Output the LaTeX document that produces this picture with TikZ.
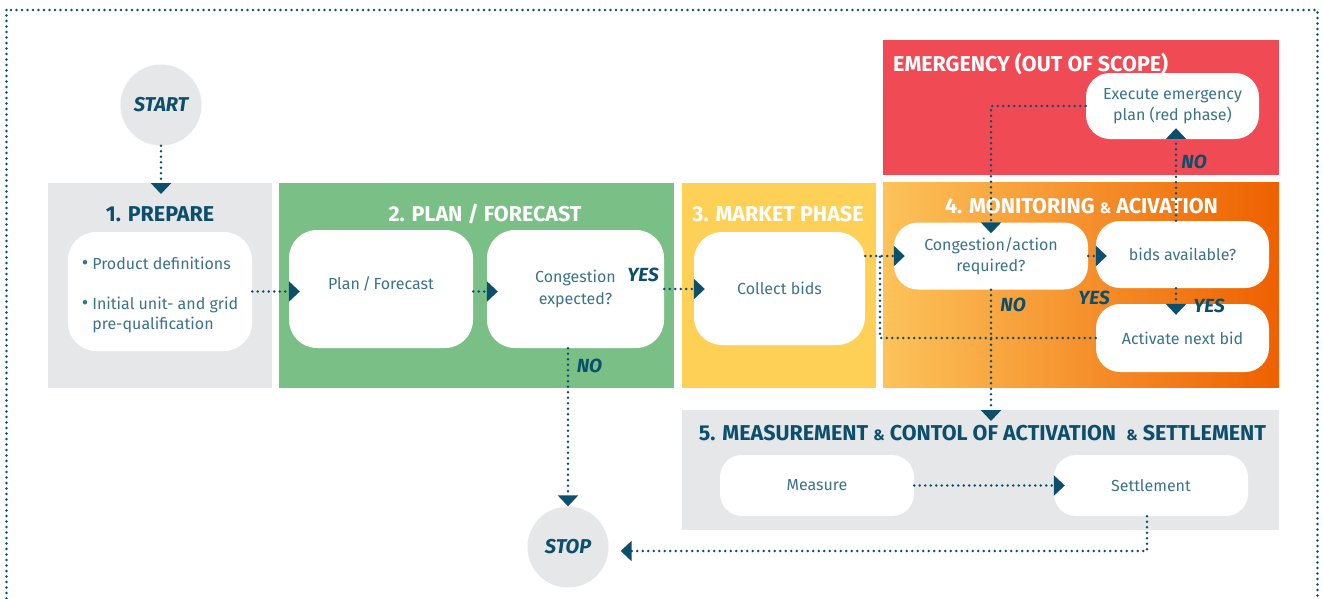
\documentclass[tikz,border=0pt]{standalone}
\usepackage{fontspec}
\setmainfont{Fira Sans}
\usetikzlibrary{arrows.meta,calc}
\definecolor{dteal}{HTML}{0B4F6C}
\definecolor{btxt}{HTML}{3B7389}
\definecolor{gbox}{HTML}{E6E7E8}
\definecolor{gfill}{HTML}{7ABF86}
\definecolor{yfill}{HTML}{FED156}
\definecolor{rfill}{HTML}{F04B55}
\definecolor{oleft}{HTML}{FDC35A}
\definecolor{omid}{HTML}{F7A033}
\definecolor{oright}{HTML}{EE6000}
\newcommand{\amp}{{\fontsize{15}{15}\selectfont\&}}
\newcommand{\bul}{{\fontsize{20}{16}\selectfont\textbullet}}
\tikzset{
  conn/.style={draw=dteal, line width=2.7pt, line cap=round, dash pattern=on 0pt off 5.5pt},
  arr/.style={conn, -{Triangle[width=20pt,length=11pt]}},
  into/.style={shorten >=-11pt},
  stepbox/.style={fill=white, rounded corners=#1, inner sep=0pt, align=center, text=btxt,
    font=\fontsize{16}{21.5}\selectfont},
  stepbox/.default=26pt,
  title/.style={font=\bfseries\fontsize{21.5}{22}\selectfont, inner sep=0pt},
  lab/.style={font=\bfseries\itshape\fontsize{19}{20}\selectfont, text=dteal, inner sep=0pt},
  term/.style={circle, fill=gbox, minimum size=81pt, inner sep=0pt,
    font=\bfseries\itshape\fontsize{20}{20}\selectfont, text=dteal},
  panel/.style={inner sep=0pt, outer sep=0pt}
}
\begin{document}
\begin{tikzpicture}[x=1pt,y=-1pt]
\useasboundingbox (0,0) rectangle (1323,598);
\clip (0,0) rectangle (1323,598);
\fill[white] (0,0) rectangle (1323,598);
% outer frame
\draw[conn] (6.5,10) rectangle (1317.5,640);

% panels
\node[panel, fill=gbox, minimum width=224pt, minimum height=205pt] (box1) at (160,285.5) {};
\node[panel, fill=gfill, minimum width=395pt, minimum height=205pt] (box2) at (476.5,285.5) {};
\node[panel, fill=yfill, minimum width=194pt, minimum height=205pt] (box3) at (779,285.5) {};
\node[panel, left color=oleft, middle color=omid, right color=oright, minimum width=396pt, minimum height=205pt] (box4) at (1081,284.5) {};
\node[panel, fill=rfill, minimum width=396pt, minimum height=135pt] (box0) at (1081,107.5) {};
\node[panel, fill=gbox, minimum width=597pt, minimum height=120pt] (box5) at (980.5,470) {};

% titles
\node[title, text=dteal] at (160,214) {1. PREPARE};
\node[title, text=white] at (485,214) {2. PLAN / FORECAST};
\node[title, text=white] at (778,214) {3. MARKET PHASE};
\node[title, text=white] at (1081.5,206.5) {4. MONITORING \amp{} ACIVATION};
\node[title, text=white, anchor=west] at (893,64) {EMERGENCY (OUT OF SCOPE)};
\node[title, text=dteal] at (982.5,433.5) {5. MEASUREMENT \amp{} CONTOL OF ACTIVATION\ \ \amp{} SETTLEMENT};

% terminals
\node[term] (start) at (161,105) {START};
\node[term] (stop) at (568,547) {STOP};

% steps
\node[stepbox=28pt, minimum width=184pt, minimum height=119pt] (prep) at (160,291.5)
  {\begin{tabular}{@{}l@{\hspace{4pt}}l@{}}
   \rule{0pt}{22pt}\bul & Product definitions\\[19pt]
   \bul & Initial unit- and grid\\[-2pt]
        & pre-qualification
   \end{tabular}};
\node[stepbox=28pt, minimum width=184pt, minimum height=118pt] (plan) at (381,289) {\raisebox{12pt}{Plan\,/\,Forecast}};
\node[stepbox=28pt, minimum width=177pt, minimum height=118pt] (cong) at (575.5,289) {Congestion\\expected?};
\node[stepbox=28pt, minimum width=171pt, minimum height=113pt] (collect) at (779.5,288.5) {Collect bids};
\node[stepbox=24pt, minimum width=194pt, minimum height=67pt] (cact) at (991,256) {Congestion/action\\required?};
\node[stepbox=24pt, minimum width=173pt, minimum height=67pt] (bids) at (1182.5,254.5) {bids available?};
\node[stepbox=24pt, minimum width=173pt, minimum height=68pt] (act) at (1182.5,338) {Activate next bid};
\node[stepbox=24pt, minimum width=173pt, minimum height=66pt] (exec) at (1172.5,106) {Execute emergency\\plan (red phase)};
\node[stepbox=22pt, minimum width=194pt, minimum height=61pt] (meas) at (817,485.5) {Measure};
\node[stepbox=22pt, minimum width=194pt, minimum height=61pt] (settle) at (1151,485.5) {Settlement};

% helper coordinates
\coordinate (j) at (880,256);
\coordinate (c1) at (1176,0);

% connectors
\draw[arr, into] (start.south) -- (start.south |- box1.north);
\draw[arr, into] (prep.east) -- (prep.east -| plan.west);
\draw[arr, into] (plan.east |- prep.east) -- (prep.east -| cong.west);
\draw[arr, into] (cong.east) -- (cong.east -| collect.west);
\draw[arr] (stop.north |- cong.south) -- (stop.north);
\draw[arr, into] (cact.west -| collect.east) -- (cact.west);
\draw[conn] (act.west) -| (j);
\draw[arr, into] (cact.south) -- (cact.south |- box5.north);
\draw[arr, into] (exec.west) -| (cact.north);
\draw[arr, into] (cact.east) -- (cact.east -| bids.west);
\draw[arr, into] (bids.north -| c1) -- (exec.south -| c1);
\draw[arr, into] (bids.south -| c1) -- (act.north -| c1);
\draw[arr, into] (meas.east) -- (meas.east -| settle.west);
\draw[arr, shorten >=12pt] ([xshift=-4pt]settle.south) |- ([yshift=-4pt]stop.east);

% labels
\node[lab] at (643,275) {YES};
\node[lab] at (589.5,365.5) {NO};
\node[lab] at (1013,305) {NO};
\node[lab] at (1094,297.5) {YES};
\node[lab] at (1194,161.5) {NO};
\node[lab] at (1209,305.5) {YES};
\end{tikzpicture}
\end{document}
